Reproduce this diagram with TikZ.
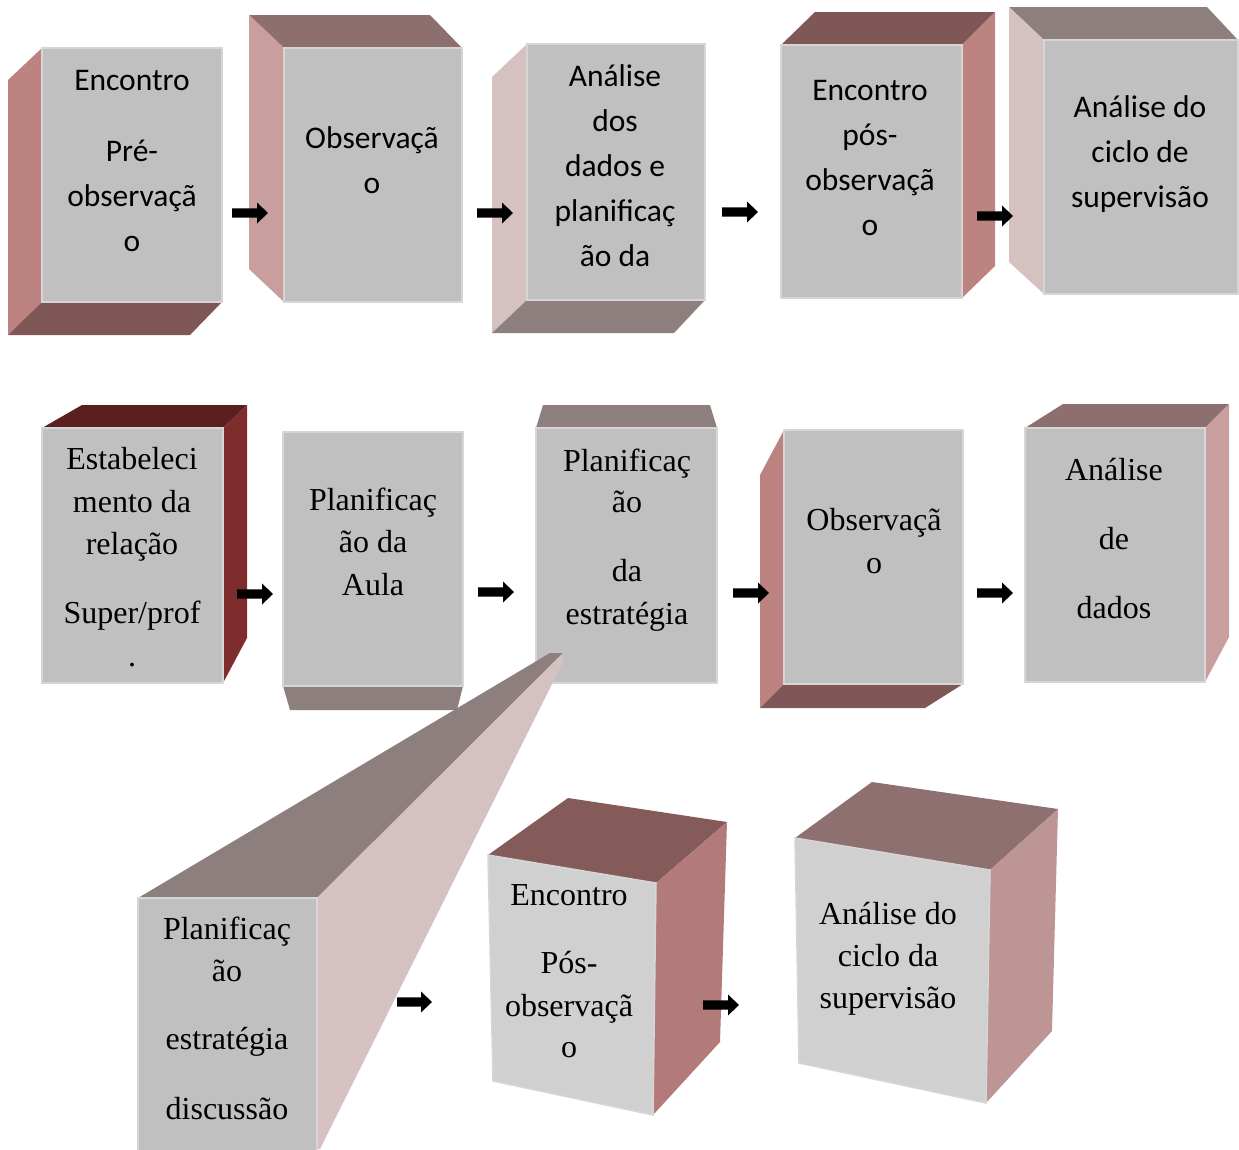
\documentclass[tikz,border=0pt]{standalone}
\usepackage{fontspec}
\usetikzlibrary{calc}
\newfontfamily\calibfont{Carlito}
\newfontfamily\timesfont{Liberation Serif}

% face colours
\definecolor{frontgray}{HTML}{C0C0C0}
\definecolor{frontlight}{HTML}{D0D0D0}
\definecolor{frontedge}{HTML}{D6D6D6}
\definecolor{roseA}{HTML}{BC8380}
\definecolor{brownA}{HTML}{7F5756}
\definecolor{mauveA}{HTML}{8C6F6E}
\definecolor{roseB}{HTML}{C89E9E}
\definecolor{paleA}{HTML}{D5C1C0}
\definecolor{greyB}{HTML}{8E7F7F}
\definecolor{maroonA}{HTML}{5A1F1F}
\definecolor{maroonB}{HTML}{7F2C2C}
\definecolor{brownB}{HTML}{845B59}
\definecolor{roseC}{HTML}{B27A78}
\definecolor{mauveB}{HTML}{8E7070}
\definecolor{roseD}{HTML}{BC9594}

% thick black block arrow between two named coordinates
\newcommand\blockarrow[2]{%
  \fill[black] ($(#1)+(0,-4.7)$) -- ($(#2)+(-11,-4.7)$) -- ($(#2)+(-11,-10.5)$)
    -- (#2) -- ($(#2)+(-11,10.5)$) -- ($(#2)+(-11,4.7)$) -- ($(#1)+(0,4.7)$) -- cycle;}

\begin{document}
\begin{tikzpicture}[x=1pt,y=-1pt,
  front/.style={fill=frontgray,draw=frontedge,line width=1.5pt},
  frontb/.style={fill=frontlight,draw=frontedge,line width=1.5pt},
  sanslbl/.style={anchor=base,inner sep=0pt,font=\calibfont\fontsize{31.5}{45}\selectfont},
  seriflbl/.style={anchor=base,inner sep=0pt,font=\timesfont\fontsize{32}{42}\selectfont}]
\useasboundingbox (0,0) rectangle (1239,1149);
\fill[white] (0,0) rectangle (1239,1149);

% ---------- first row ----------
% Encontro pre-observacao
\fill[roseA] (42,48) -- (42,302) -- (8,335) -- (8,80) -- cycle;
\fill[brownA] (42,302) -- (222,302) -- (190,335) -- (8,335) -- cycle;
\filldraw[front] (42,48) rectangle (222,302);
\foreach \y/\t [count=\i] in {90/Encontro,161/Pré-,206/observaçã,251/o}
  \node[sanslbl] (b1-\i) at (132,\y) {\t};

% Observacao
\fill[mauveA] (284,48) -- (462,48) -- (430,15) -- (249,15) -- cycle;
\fill[roseB] (284,48) -- (284,302) -- (249,269) -- (249,15) -- cycle;
\filldraw[front] (284,48) rectangle (462,302);
\foreach \y/\t [count=\i] in {148/Observaçã,193/o}
  \node[sanslbl] (b2-\i) at (372,\y) {\t};

% Analise dos dados e planificacao da
\fill[paleA] (527,44) -- (527,300) -- (492,333) -- (492,77) -- cycle;
\fill[greyB] (527,300) -- (705,300) -- (674,333) -- (492,333) -- cycle;
\filldraw[front] (527,44) rectangle (705,300);
\foreach \y/\t [count=\i] in {86/Análise,131/dos,176/dados e,221/planificaç,266/ão da}
  \node[sanslbl] (b3-\i) at (615,\y) {\t};

% Encontro pos-observacao
\fill[brownA] (781,45) -- (962,45) -- (995,12) -- (815,12) -- cycle;
\fill[roseA] (962,45) -- (995,12) -- (995,266) -- (962,298) -- cycle;
\filldraw[front] (781,45) rectangle (962,298);
\foreach \y/\t [count=\i] in {100/Encontro,145/pós-,190/observaçã,235/o}
  \node[sanslbl] (b4-\i) at (870,\y) {\t};

% Analise do ciclo de supervisao
\fill[greyB] (1044,40) -- (1238,40) -- (1207,7) -- (1009,7) -- cycle;
\fill[paleA] (1044,40) -- (1044,294) -- (1009,262) -- (1009,7) -- cycle;
\filldraw[front] (1044,40) rectangle (1238,294);
\foreach \y/\t [count=\i] in {117/Análise do,162/ciclo de,207/supervisão}
  \node[sanslbl] (b5-\i) at (1140,\y) {\t};

% ---------- second row ----------
% Estabelecimento da relacao
\fill[maroonA] (42,428) -- (223,428) -- (247,405) -- (82,405) -- cycle;
\fill[maroonB] (223,428) -- (247,405) -- (247,638) -- (223,683) -- cycle;
\filldraw[front] (42,428) rectangle (223,683);
\foreach \y/\t [count=\i] in {469/Estabeleci,512/mento da,554/relação}
  \node[seriflbl] (b6-\i) at (132,\y) {\t};
\node[seriflbl] (b6-4) at (132,623) {Super/prof};
\node[seriflbl] (b6-5) at (132,666) {.};

% Planificacao da Aula
\fill[greyB] (283,686) -- (463,686) -- (457,710) -- (290,710) -- cycle;
\filldraw[front] (283,432) rectangle (463,686);
\foreach \y/\t [count=\i] in {510/Planificaç,552/ão da,595/Aula}
  \node[seriflbl] (b7-\i) at (373,\y) {\t};

% Planificacao da estrategia
\fill[greyB] (536,428) -- (717,428) -- (710,405) -- (543,405) -- cycle;
\filldraw[front] (536,428) rectangle (717,683);
\foreach \y/\t [count=\i] in {471/Planificaç,512/ão,581/da,624/estratégia}
  \node[seriflbl] (b8-\i) at (627,\y) {\t};

% Observacao
\fill[roseA] (784,430) -- (784,684) -- (760,708) -- (760,475) -- cycle;
\fill[brownA] (784,684) -- (963,684) -- (925,708) -- (760,708) -- cycle;
\filldraw[front] (784,430) rectangle (963,684);
\foreach \y/\t [count=\i] in {530/Observaçã,573/o}
  \node[seriflbl] (b9-\i) at (874,\y) {\t};

% Analise de dados
\fill[mauveA] (1025,428) -- (1205,428) -- (1229,404) -- (1063,404) -- cycle;
\fill[roseB] (1205,428) -- (1229,404) -- (1229,637) -- (1205,682) -- cycle;
\filldraw[front] (1025,428) rectangle (1205,682);
\foreach \y/\t [count=\i] in {480/Análise,549/de,618/dados}
  \node[seriflbl] (b10-\i) at (1114,\y) {\t};

% ---------- third row ----------
% long perspective box: Planificacao estrategia discussao
\fill[greyB] (138,898) -- (317,898) -- (563,653) -- (550,653) -- cycle;
\fill[paleA] (317,898) -- (563,653) -- (563,662) -- (320,1149) -- (317,1149) -- cycle;
\filldraw[front] (138,898) rectangle (317,1152);
\foreach \y/\t [count=\i] in {939/Planificaç,981/ão,1049/estratégia,1119/discussão}
  \node[seriflbl] (b11-\i) at (227,\y) {\t};

% Encontro Pos-observacao
\fill[brownB] (488,855) -- (568,798) -- (727,822) -- (656,883) -- cycle;
\fill[roseC] (656,883) -- (727,822) -- (720,1042) -- (653,1115) -- cycle;
\filldraw[frontb] (488,855) -- (656,883) -- (653,1115) -- (493,1081) -- cycle;
\foreach \y/\t [count=\i] in {905/Encontro,973/Pós-,1016/observaçã,1057/o}
  \node[seriflbl] (b12-\i) at (569,\y) {\t};

% Analise do ciclo da supervisao
\fill[mauveB] (795,838) -- (872,782) -- (1058,809) -- (990,870) -- cycle;
\fill[roseD] (990,870) -- (1058,809) -- (1052,1031) -- (986,1103) -- cycle;
\filldraw[frontb] (795,838) -- (990,870) -- (986,1103) -- (799,1063) -- cycle;
\foreach \y/\t [count=\i] in {924/Análise do,966/ciclo da,1008/supervisão}
  \node[seriflbl] (b13-\i) at (888,\y) {\t};

% ---------- arrows ----------
\foreach \n/\xa/\xb/\y in {a1/232/268/213, a2/477/513/213, a3/722/758/212, a4/977/1013/216,
    a5/237/273/594, a6/478/514/592, a7/733/769/593, a8/977/1013/593,
    a9/397/432/1002, a10/703/739/1005}{
  \coordinate (\n s) at (\xa,\y);
  \coordinate (\n e) at (\xb,\y);
  \blockarrow{\n s}{\n e}
}
\end{tikzpicture}
\end{document}
